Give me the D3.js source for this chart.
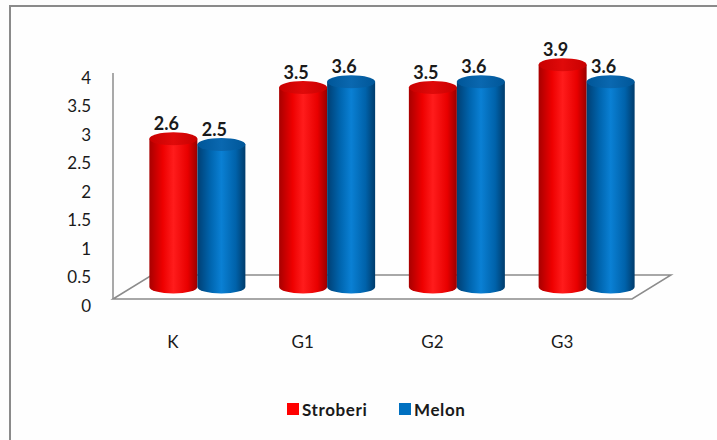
<!DOCTYPE html>
<html>
<head>
<meta charset="utf-8">
<script src="https://cdn.jsdelivr.net/npm/d3@7"></script>
<style>
  html, body { margin: 0; padding: 0; background: #fdfdfd; }
  svg { display: block; }
  text { font-family: Lato, "Open Sans", sans-serif; fill: #1a1a1a; }
</style>
</head>
<body>
<svg id="chart" width="717" height="440"></svg>
<script>
// Data
const categories = ["K", "G1", "G2", "G3"];
const seriesNames = ["Stroberi", "Melon"];
const stroberi = [2.6, 3.5, 3.5, 3.9];
const melon = [2.5, 3.6, 3.6, 3.6];
const yTicks = [0, 0.5, 1, 1.5, 2, 2.5, 3, 3.5, 4];
const yTickLabels = ["0", "0.5", "1", "1.5", "2", "2.5", "3", "3.5", "4"];

const seriesValues = [stroberi, melon];
const palette = {
  Stroberi: { stops: ["#a80000", "#ee0000", "#ff1c1c", "#e80000", "#9a0000"], top: "#c80000", topLight: "#e00a0a", swatch: "#ff0000" },
  Melon:    { stops: ["#003f73", "#0066b0", "#0a80d4", "#0062aa", "#003c6c"], top: "#005698", topLight: "#0a68b0", swatch: "#0070c0" }
};

const svg = d3.select("#chart");
const defs = svg.append("defs");

// Frame around the chart area
svg.append("rect")
  .attr("x", 10).attr("y", 6).attr("width", 740).attr("height", 460)
  .attr("fill", "#fefefe").attr("stroke", "#8a8a8a").attr("stroke-width", 2);

// Scales (front plane of the floor)
const x = d3.scaleBand().domain(categories).range([113, 632]).paddingInner(0.26).paddingOuter(0.13);
const xs = d3.scaleBand().domain(seriesNames).range([0, x.bandwidth()]);
const y = d3.scaleLinear().domain([0, 4]).range([299, 71]);

// Depth offset from the front edge of the floor to its back edge
const depth = { dx: 39, dy: -24 };
const mid = { dx: depth.dx / 2, dy: depth.dy / 2 };

// Floor
const x0 = x.range()[0], x1 = x.range()[1];
const floorPts = [
  [x0, y(0)], [x0 + depth.dx, y(0) + depth.dy],
  [x1 + depth.dx, y(0) + depth.dy], [x1, y(0)]
];
svg.append("polygon")
  .attr("points", floorPts.map(p => p.join(",")).join(" "))
  .attr("fill", "#ffffff").attr("stroke", "#8c8c8c").attr("stroke-width", 1.5);

// Vertical axis line
svg.append("line")
  .attr("x1", x0).attr("x2", x0).attr("y1", y(4) + 2).attr("y2", y(0))
  .attr("stroke", "#8c8c8c").attr("stroke-width", 1.5);

// Value axis labels
svg.append("g").selectAll("text").data(yTicks).join("text")
  .attr("x", 91).attr("y", (d) => y(d) + 6)
  .attr("text-anchor", "end").attr("dominant-baseline", "central")
  .attr("font-size", 17)
  .text((d, i) => yTickLabels[i]);

// Category labels
svg.append("g").selectAll("text").data(categories).join("text")
  .attr("x", (d) => x(d) + x.bandwidth() / 2 - 5)
  .attr("y", 341)
  .attr("text-anchor", "middle").attr("dominant-baseline", "central")
  .attr("font-size", 17)
  .text((d) => d);

// Cylinder gradients
seriesNames.forEach((s) => {
  const g = defs.append("linearGradient").attr("id", "grad-" + s)
    .attr("x1", "0%").attr("x2", "100%").attr("y1", "0%").attr("y2", "0%");
  const offs = [0, 0.28, 0.5, 0.8, 1];
  palette[s].stops.forEach((c, i) => g.append("stop").attr("offset", offs[i]).attr("stop-color", c));
  const t = defs.append("linearGradient").attr("id", "top-" + s)
    .attr("x1", "0%").attr("x2", "100%").attr("y1", "0%").attr("y2", "0%");
  t.append("stop").attr("offset", 0).attr("stop-color", palette[s].top);
  t.append("stop").attr("offset", 0.5).attr("stop-color", palette[s].topLight);
  t.append("stop").attr("offset", 1).attr("stop-color", palette[s].top);
});

// Bars as cylinders
const ry = 6.5;
const bars = [];
categories.forEach((c, ci) => {
  seriesNames.forEach((s, si) => {
    bars.push({ cat: c, series: s, value: seriesValues[si][ci] });
  });
});

const barG = svg.append("g");
bars.forEach((b) => {
  const left = x(b.cat) + xs(b.series) + mid.dx;
  const w = xs.bandwidth();
  const rx = w / 2;
  const cx = left + rx;
  const yBase = y(0) + mid.dy;
  const yTop = y(b.value) + mid.dy;
  const body = `M${left},${yTop} L${left},${yBase} A${rx},${ry} 0 0 0 ${left + w},${yBase} L${left + w},${yTop} Z`;
  barG.append("path").attr("d", body).attr("fill", `url(#grad-${b.series})`);
  barG.append("ellipse")
    .attr("cx", cx).attr("cy", yTop).attr("rx", rx).attr("ry", ry)
    .attr("fill", `url(#top-${b.series})`);
});

// Value labels
svg.append("g").selectAll("text").data(bars).join("text")
  .attr("x", (b) => x(b.cat) + xs(b.series) + mid.dx + xs.bandwidth() / 2 - 7)
  .attr("y", (b) => y(b.value) + mid.dy - 16)
  .attr("text-anchor", "middle").attr("dominant-baseline", "central")
  .attr("font-size", 18).attr("font-weight", 700).attr("fill", "#222")
  .text((b) => b.value.toFixed(1));

// Legend
const legendItems = [
  { name: "Stroberi", sx: 287, tx: 302 },
  { name: "Melon", sx: 399, tx: 414 }
];
const lg = svg.append("g");
legendItems.forEach((it) => {
  lg.append("rect").attr("x", it.sx).attr("y", 403).attr("width", 12).attr("height", 12)
    .attr("fill", palette[it.name].swatch);
  lg.append("text").attr("x", it.tx).attr("y", 409)
    .attr("dominant-baseline", "central").attr("font-size", 17).attr("font-weight", 700)
    .attr("letter-spacing", 0.6)
    .text(it.name);
});
</script>
</body>
</html>
